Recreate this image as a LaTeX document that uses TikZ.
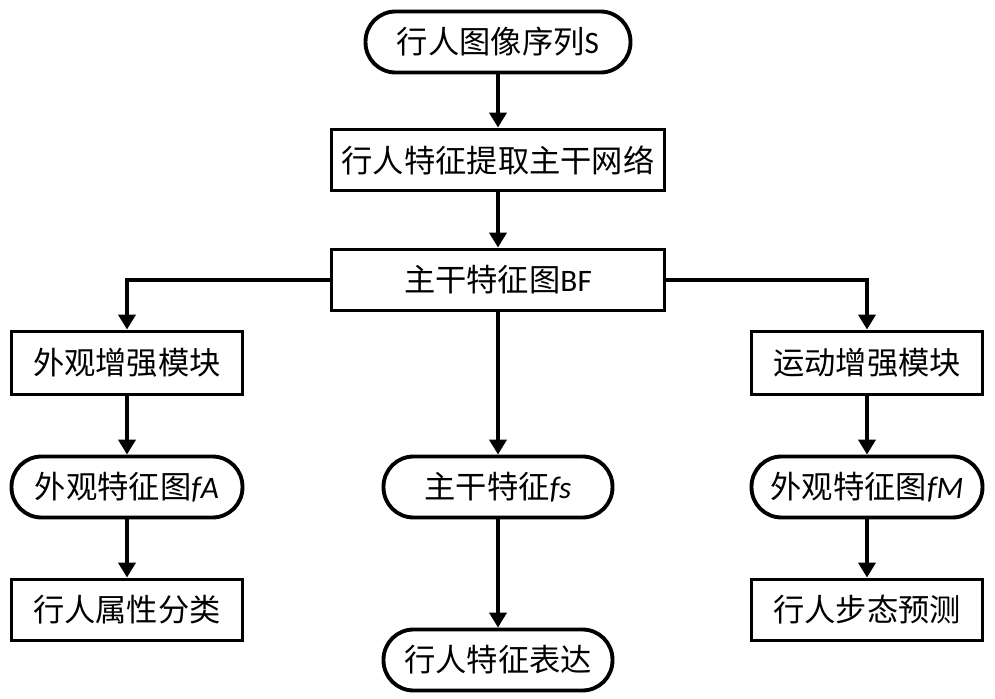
\documentclass[tikz,border=0pt]{standalone}
\usepackage{fontspec}
\setmainfont{Carlito}
\newfontfamily\cjk{Noto Sans CJK SC}
\usetikzlibrary{arrows.meta}
\tikzset{
  box/.style={draw, line width=2.2pt, fill=white, font=\fontsize{17.8}{21}\selectfont, inner sep=0pt},
  roundbox/.style={box, rounded corners=0.6cm},
  flow/.style={line width=2.2pt, -{Triangle[length=0.3cm, width=0.34cm]}},
}
\begin{document}
\begin{tikzpicture}[x=0.02cm, y=-0.02cm]
\useasboundingbox (0,0) rectangle (995,699);
% top column
\node[roundbox, minimum width=5.3cm, minimum height=1.22cm] (seq) at (498,42) {{\cjk 行人图像序列}S};
\node[box, minimum width=6.66cm, minimum height=1.22cm] (net) at (498,160) {\cjk 行人特征提取主干网络};
\node[box, minimum width=6.66cm, minimum height=1.22cm] (bf) at (498,280) {{\cjk 主干特征图}BF};
% left column
\node[box, minimum width=4.62cm, minimum height=1.26cm] (appmod) at (127,363) {\cjk 外观增强模块};
\node[roundbox, minimum width=4.62cm, minimum height=1.22cm] (fa) at (127,487) {{\cjk 外观特征图}\textit{fA}};
\node[box, minimum width=4.62cm, minimum height=1.22cm] (attr) at (127,610) {\cjk 行人属性分类};
% center column
\node[roundbox, minimum width=4.58cm, minimum height=1.22cm] (fs) at (498,487) {{\cjk 主干特征}\textit{fs}};
\node[roundbox, minimum width=4.58cm, minimum height=1.22cm] (expr) at (498,660) {\cjk 行人特征表达};
% right column
\node[box, minimum width=4.62cm, minimum height=1.26cm] (motmod) at (867,363) {\cjk 运动增强模块};
\node[roundbox, minimum width=4.62cm, minimum height=1.22cm] (fm) at (867,487) {{\cjk 外观特征图}\textit{fM}};
\node[box, minimum width=4.62cm, minimum height=1.22cm] (gait) at (867,610) {\cjk 行人步态预测};
% connectors
\draw[flow] (seq) -- (net);
\draw[flow] (net) -- (bf);
\draw[flow] (bf.west) -| (appmod.north);
\draw[flow] (bf.east) -| (motmod.north);
\draw[flow] (bf) -- (fs);
\draw[flow] (appmod) -- (fa);
\draw[flow] (fa) -- (attr);
\draw[flow] (fs) -- (expr);
\draw[flow] (motmod) -- (fm);
\draw[flow] (fm) -- (gait);
\end{tikzpicture}
\end{document}
